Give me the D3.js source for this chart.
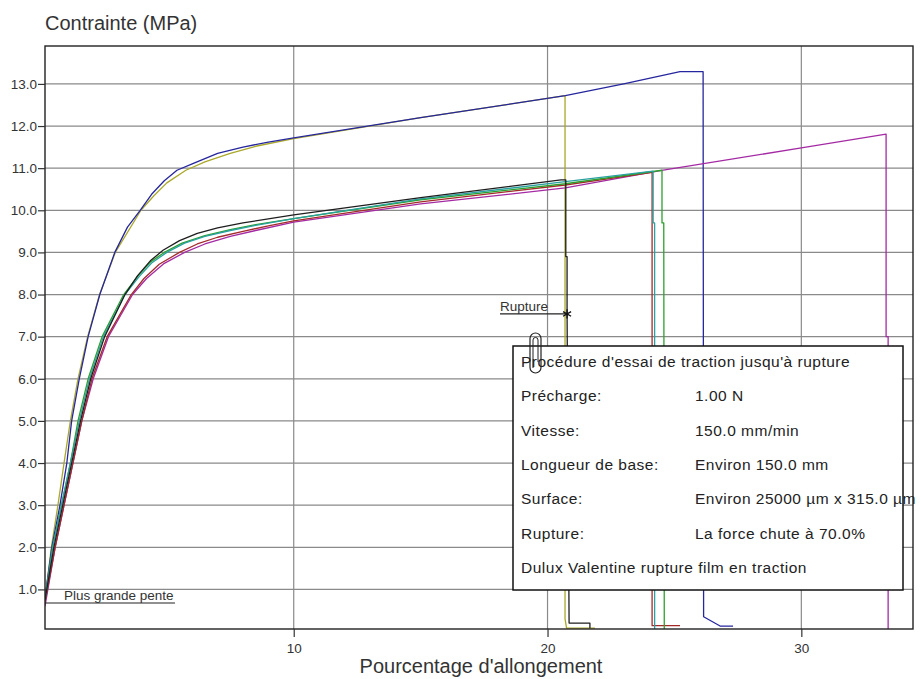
<!DOCTYPE html>
<html>
<head>
<meta charset="utf-8">
<script src="https://cdnjs.cloudflare.com/ajax/libs/d3/7.8.5/d3.min.js"></script>
<style>
  body { margin: 0; background: #fff; }
  svg { display: block; font-family: "Liberation Sans", Arial, sans-serif; }
</style>
</head>
<body>
<svg width="921" height="679"></svg>
<script>
// Courbes contrainte / allongement
var bleu = [[0.2,0.8],[0.47,2.0],[0.79,3.0],[1.06,4.0],[1.25,5.0],[1.55,6.0],[1.9,7.0],[2.36,8.0],[2.95,9.0],[3.45,9.6],[3.95,10.0],[4.4,10.38],[4.9,10.7],[5.4,10.95],[6.0,11.1],[7.0,11.35],[8.0,11.5],[9.0,11.62],[10.0,11.72],[15.0,12.2],[20.7,12.72],[23.0,13.0],[25.22,13.29],[26.13,13.29],[26.15,0.35],[26.8,0.13],[27.31,0.13]];
var olive = [[0.2,0.75],[0.45,2.0],[0.71,3.0],[0.95,4.0],[1.2,5.0],[1.5,6.0],[1.88,7.0],[2.35,8.0],[2.97,9.0],[3.98,10.0],[4.5,10.35],[5.0,10.65],[5.75,10.95],[6.5,11.15],[7.5,11.35],[8.5,11.52],[10.0,11.7],[15.0,12.2],[20.69,12.72],[20.69,0.3],[20.75,0.08],[21.87,0.08]];
var noir = [[0.2,0.75],[0.55,2.0],[0.9,3.0],[1.25,4.0],[1.6,5.0],[2.0,6.0],[2.55,7.0],[3.35,8.0],[3.85,8.45],[4.35,8.8],[4.85,9.05],[5.5,9.28],[6.2,9.45],[7.0,9.58],[8.0,9.7],[10.0,9.89],[15.0,10.3],[20.53,10.72],[20.72,10.72],[20.72,8.9],[20.77,8.9],[20.77,7.54],[20.85,0.2],[21.67,0.2],[21.67,0.08]];
var turquoise = [[0.2,0.75],[0.5,2.0],[0.85,3.0],[1.2,4.0],[1.55,5.0],[1.95,6.0],[2.5,7.0],[3.35,8.0],[3.9,8.42],[4.4,8.75],[5.0,9.0],[5.7,9.22],[6.5,9.38],[7.5,9.52],[8.5,9.64],[10.0,9.8],[15.0,10.27],[20.7,10.68],[24.16,10.93],[24.16,9.7],[24.22,9.7],[24.22,0.06]];
var vert = [[0.2,0.75],[0.5,2.0],[0.85,3.0],[1.2,4.0],[1.5,5.0],[1.9,6.0],[2.45,7.0],[3.3,8.0],[3.85,8.43],[4.35,8.77],[4.9,9.0],[5.6,9.22],[6.5,9.4],[7.5,9.54],[8.5,9.66],[10.0,9.8],[15.0,10.25],[20.7,10.63],[24.51,10.95],[24.51,9.7],[24.58,9.7],[24.6,0.06]];
var rouge = [[0.2,0.7],[0.6,2.0],[0.95,3.0],[1.3,4.0],[1.65,5.0],[2.05,6.0],[2.65,7.0],[3.6,8.0],[4.1,8.38],[4.7,8.72],[5.5,9.0],[6.2,9.2],[7.0,9.36],[8.0,9.5],[9.0,9.63],[10.0,9.75],[15.0,10.2],[20.7,10.6],[24.12,10.9],[24.12,0.14],[25.22,0.14]];
var magenta = [[0.2,0.6],[0.6,2.0],[0.95,3.0],[1.3,4.0],[1.65,5.0],[2.1,6.0],[2.7,7.0],[3.65,8.0],[4.2,8.38],[4.9,8.74],[5.7,9.0],[6.5,9.2],[7.5,9.38],[8.5,9.52],[10.0,9.72],[15.0,10.15],[20.7,10.53],[24.5,10.95],[30.0,11.48],[33.34,11.81],[33.34,7.0],[33.42,7.0],[33.42,0.06]];

var series = [olive, bleu, magenta, rouge, vert, turquoise, noir];
var couleurs = ["#aaa82a", "#26269e", "#a42aa4", "#a42a2a", "#2ea02e", "#2aa0a0", "#1e1e1e"];

var xTicks = [10, 20, 30];
var yTicks = [1, 2, 3, 4, 5, 6, 7, 8, 9, 10, 11, 12, 13];

var rupture = [20.77, 7.54];
var grandePente = [[0.2, 0.677], [5.32, 0.677]];

var legendeTitre = "Procédure d'essai de traction jusqu'à rupture";
var legendeLabels = ["Précharge:", "Vitesse:", "Longueur de base:", "Surface:", "Rupture:"];
var legendeValeurs = ["1.00 N", "150.0 mm/min", "Environ 150.0 mm", "Environ 25000 µm x 315.0 µm", "La force chute à 70.0%"];
var legendeNote = "Dulux Valentine rupture film en traction";

var svg = d3.select("svg"),
    plotLeft = 45, plotRight = 913, plotTop = 46, plotBottom = 629;

var x = d3.scaleLinear().domain([0.2, 34.4]).range([plotLeft, plotRight]),
    y = d3.scaleLinear().domain([0.06, 13.9]).range([plotBottom, plotTop]);

// grille
var grid = svg.append("g").attr("class", "grid")
    .attr("stroke", "#8a8a8a").attr("stroke-width", 1.2);
grid.selectAll("line.h").data(yTicks).enter().append("line")
    .attr("x1", plotLeft).attr("x2", plotRight)
    .attr("y1", function(d) { return y(d); })
    .attr("y2", function(d) { return y(d); });
grid.selectAll("line.v").data(xTicks).enter().append("line")
    .attr("y1", plotTop).attr("y2", plotBottom)
    .attr("x1", function(d) { return x(d); })
    .attr("x2", function(d) { return x(d); });

svg.append("clipPath").attr("id", "clip")
   .append("rect")
   .attr("x", plotLeft).attr("y", plotTop)
   .attr("width", plotRight - plotLeft).attr("height", plotBottom - plotTop);

var line = d3.line()
    .x(function(d) { return x(d[0]); })
    .y(function(d) { return y(d[1]); });

svg.append("g")
   .attr("clip-path", "url(#clip)")
   .selectAll("path")
   .data(series)
   .enter().append("path")
           .attr("d", line)
           .attr("fill", "none")
           .attr("stroke-width", 1.3)
           .attr("stroke-linejoin", "round")
           .attr("stroke", function(d, i) { return couleurs[i]; });

// cadre
svg.append("rect")
   .attr("x", plotLeft).attr("y", plotTop)
   .attr("width", plotRight - plotLeft).attr("height", plotBottom - plotTop)
   .attr("fill", "none").attr("stroke", "#222").attr("stroke-width", 1.4);

// axes
var yAxis = svg.append("g")
   .attr("transform", "translate(" + plotLeft + ",0)")
   .call(d3.axisLeft(y).tickValues(yTicks).tickFormat(d3.format(".1f")).tickSize(7).tickPadding(1).tickSizeOuter(0));
var xAxis = svg.append("g")
   .attr("transform", "translate(0," + plotBottom + ")")
   .call(d3.axisBottom(x).tickValues(xTicks).tickFormat(d3.format("d")).tickSize(8).tickPadding(6).tickSizeOuter(0));
[yAxis, xAxis].forEach(function(a) {
    a.select(".domain").remove();
    a.selectAll("line").attr("stroke", "#333").attr("stroke-width", 1.2);
    a.selectAll("text").attr("fill", "#333").attr("font-size", 13.5)
     .attr("font-family", "'Liberation Sans', Arial, sans-serif");
});

svg.append("text")
   .attr("x", 45).attr("y", 30)
   .attr("font-size", 20).attr("fill", "#333")
   .text("Contrainte (MPa)");

svg.append("text")
   .attr("x", 481).attr("y", 673)
   .attr("text-anchor", "middle")
   .attr("font-size", 20).attr("fill", "#333")
   .text("Pourcentage d'allongement");

// annotations
svg.append("line")
   .attr("x1", x(grandePente[0][0])).attr("x2", x(grandePente[1][0]))
   .attr("y1", y(grandePente[0][1])).attr("y2", y(grandePente[1][1]))
   .attr("stroke", "#222").attr("stroke-width", 1.2);
svg.append("text")
   .attr("x", 64).attr("y", y(grandePente[0][1]) - 3)
   .attr("font-size", 13.5).attr("fill", "#333")
   .text("Plus grande pente");

var rx = x(rupture[0]), ry = y(rupture[1]);
svg.append("line")
   .attr("x1", 500).attr("x2", rx)
   .attr("y1", ry).attr("y2", ry)
   .attr("stroke", "#222").attr("stroke-width", 1.2);
svg.append("text")
   .attr("x", 500).attr("y", ry - 3)
   .attr("font-size", 13.5).attr("fill", "#333")
   .text("Rupture");
svg.append("path")
   .attr("d", d3.symbol().type(d3.symbolAsterisk).size(60))
   .attr("transform", "translate(" + rx + "," + ry + ")")
   .attr("fill", "none").attr("stroke", "#111").attr("stroke-width", 1.3);

// encadre de legende
var box = svg.append("g");
box.append("rect")
   .attr("x", 513).attr("y", 346).attr("width", 390).attr("height", 244)
   .attr("fill", "#fff").attr("stroke", "#111").attr("stroke-width", 1.5);

var rows = [legendeTitre].concat(legendeLabels).concat([legendeNote]);
box.selectAll("text.lab")
   .data(rows)
   .enter().append("text")
           .attr("class", "lab")
           .attr("x", 521)
           .attr("y", function(d, i) { return 367 + i * 34.3; })
           .attr("font-size", 15.5).attr("letter-spacing", 0.5).attr("fill", "#222")
           .text(function(d) { return d; });
box.selectAll("text.val")
   .data(legendeValeurs)
   .enter().append("text")
           .attr("class", "val")
           .attr("x", 695)
           .attr("y", function(d, i) { return 367 + (i + 1) * 34.3; })
           .attr("font-size", 15.5).attr("letter-spacing", 0.5).attr("fill", "#222")
           .text(function(d) { return d; });

// trombone
box.append("rect")
   .attr("x", 530).attr("y", 333).attr("width", 11).attr("height", 40).attr("rx", 5.5)
   .attr("fill", "none").attr("stroke", "#222").attr("stroke-width", 1.2);
box.append("path")
   .attr("d", "M533,368 V340 a2.5,2.5 0 0 1 5,0 V362")
   .attr("fill", "none").attr("stroke", "#222").attr("stroke-width", 1);
</script>
</body>
</html>
